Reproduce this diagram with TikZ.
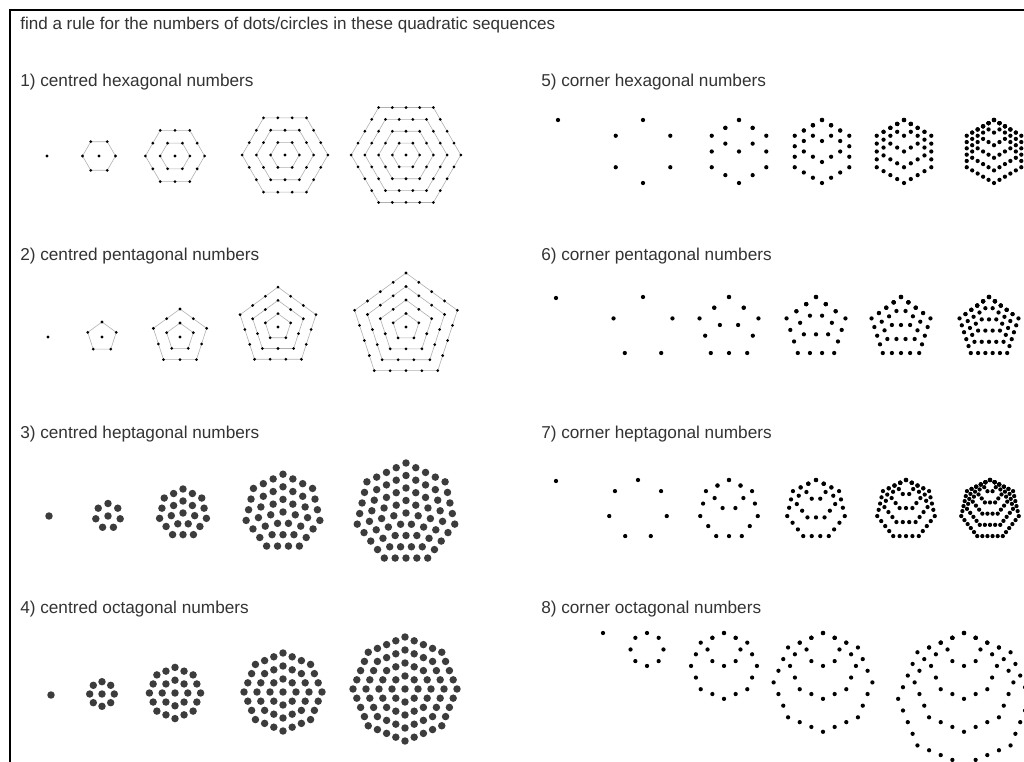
\documentclass[tikz,border=0pt]{standalone}
\usepackage{fontspec}
\setmainfont{Liberation Sans}
\definecolor{txt}{HTML}{333333}
\definecolor{ringc}{HTML}{B0B0B0}
\definecolor{bigdot}{HTML}{3C3C3C}
\tikzset{
  lbl/.style={anchor=west,inner sep=0pt,text=txt,font=\fontsize{12.9pt}{15pt}\selectfont},
  ttl/.style={anchor=west,inner sep=0pt,text=txt,font=\fontsize{12.8pt}{15pt}\selectfont},
  ringline/.style={draw=ringc,line width=0.45pt},
  smalldot/.style={fill=black},
  heavydot/.style={fill=bigdot},
  cdot/.style={fill=black},
  frame/.style={line width=1.5pt,draw=black}
}
% centred figure: #1 cx, #2 cy, #3 sides, #4 rings, #5 ring spacing, #6 start angle, #7 dot style, #8 dot radius, #9 lines (1/0)
\newcommand{\centredfig}[9]{%
  \ifnum#9=1
    \foreach \k in {1,...,#4}{
      \draw[ringline] plot[samples at={0,...,#3}] ({#1+\k*#5*cos(#6+\x*360/#3)},{#2+\k*#5*sin(#6+\x*360/#3)});
    }
  \fi
  \fill[#7] (#1,#2) circle[radius=#8];
  \foreach \k in {1,...,#4}{
    \foreach \i in {1,...,#3}{
      \foreach \t in {1,...,\k}{
        \pgfmathsetmacro\ff{(\t-1)/\k}
        \pgfmathsetmacro\aa{#6+(\i-1)*360/#3}
        \pgfmathsetmacro\ab{#6+\i*360/#3}
        \fill[#7] ({#1+\k*#5*((1-\ff)*cos(\aa)+\ff*cos(\ab))},{#2+\k*#5*((1-\ff)*sin(\aa)+\ff*sin(\ab))}) circle[radius=#8];
      }
    }
  }
}
% corner figure: #1 top x, #2 top y, #3 sides, #4 largest size, #5 dot spacing, #6 dot radius
\newcommand{\cornerfig}[6]{%
  \foreach \k in {1,...,#4}{
    \pgfmathsetmacro\RR{\k*#5/(2*sin(180/#3))}
    \foreach \i in {1,...,#3}{
      \foreach \t in {1,...,\k}{
        \pgfmathsetmacro\ff{(\t-1)/\k}
        \pgfmathsetmacro\aa{-90+(\i-1)*360/#3}
        \pgfmathsetmacro\ab{-90+\i*360/#3}
        \fill[cdot] ({#1+\RR*((1-\ff)*cos(\aa)+\ff*cos(\ab))},{#2+\RR+\RR*((1-\ff)*sin(\aa)+\ff*sin(\ab))}) circle[radius=#6];
      }
    }
  }
}
\begin{document}
\begin{tikzpicture}[x=0.75pt,y=-0.75pt]
\useasboundingbox (0,0) rectangle (1024,762);
\fill[white] (0,0) rectangle (1024,762);
% frame
\coordinate (fb) at (9.5,762);
\coordinate (fc) at (9.5,10);
\coordinate (fr) at (1024,10);
\draw[frame] (fb) -- (fc) -- (fr);
% texts
\node[ttl] (title) at (20,25) {find a rule for the numbers of dots/circles in these quadratic sequences};
\node[lbl] (l1) at (20,82) {1) centred hexagonal numbers};
\node[lbl] (l2) at (20,256) {2) centred pentagonal numbers};
\node[lbl] (l3) at (20,434) {3) centred heptagonal numbers};
\node[lbl] (l4) at (20,609) {4) centred octagonal numbers};
\node[lbl] (l5) at (541,82) {5) corner hexagonal numbers};
\node[lbl] (l6) at (541,256) {6) corner pentagonal numbers};
\node[lbl] (l7) at (541,434) {7) corner heptagonal numbers};
\node[lbl] (l8) at (541,609) {8) corner octagonal numbers};
% 1) centred hexagonal
\fill[smalldot] (47,156) circle[radius=1.15pt];
\centredfig{99}{156}{6}{1}{16.5}{0}{smalldot}{1.15pt}{1}
\centredfig{175}{156}{6}{2}{14.8}{0}{smalldot}{1.15pt}{1}
\centredfig{285}{155}{6}{3}{14.3}{0}{smalldot}{1.15pt}{1}
\centredfig{406}{155}{6}{4}{13.7}{0}{smalldot}{1.15pt}{1}
% 2) centred pentagonal
\fill[smalldot] (48,337) circle[radius=1.15pt];
\centredfig{102}{337}{5}{1}{15}{-90}{smalldot}{1.15pt}{1}
\centredfig{180}{337}{5}{2}{14}{-90}{smalldot}{1.15pt}{1}
\centredfig{278}{327}{5}{3}{13.3}{-90}{smalldot}{1.15pt}{1}
\centredfig{406}{327}{5}{4}{13.5}{-90}{smalldot}{1.15pt}{1}
% 3) centred heptagonal
\fill[heavydot] (49,516) circle[radius=2.8pt];
\centredfig{108}{516}{7}{1}{12.5}{-90}{heavydot}{2.8pt}{0}
\centredfig{183}{513}{7}{2}{12}{-90}{heavydot}{2.8pt}{0}
\centredfig{283}{512}{7}{3}{12.6}{-90}{heavydot}{2.8pt}{0}
\centredfig{406}{513}{7}{4}{12.5}{-90}{heavydot}{2.8pt}{0}
% 4) centred octagonal
\fill[heavydot] (51,695) circle[radius=2.8pt];
\centredfig{102}{694}{8}{1}{12.3}{-90}{heavydot}{2.8pt}{0}
\centredfig{175}{693}{8}{2}{12.8}{-90}{heavydot}{2.8pt}{0}
\centredfig{283}{692}{8}{3}{13}{-90}{heavydot}{2.8pt}{0}
\centredfig{405}{689}{8}{4}{13}{-90}{heavydot}{2.8pt}{0}
% 5) corner hexagonal
\fill[cdot] (558,120) circle[radius=1.6pt];
\cornerfig{643}{120}{6}{1}{31.5}{1.6pt}
\cornerfig{739}{120}{6}{2}{15.75}{1.6pt}
\cornerfig{822}{120}{6}{3}{10.5}{1.6pt}
\cornerfig{904}{120}{6}{4}{7.875}{1.6pt}
\cornerfig{994}{120}{6}{5}{6.3}{1.6pt}
% 6) corner pentagonal
\fill[cdot] (556,298) circle[radius=1.6pt];
\cornerfig{643}{297}{5}{1}{36.4}{1.6pt}
\cornerfig{729}{297}{5}{2}{18.2}{1.6pt}
\cornerfig{816}{297}{5}{3}{12.13}{1.6pt}
\cornerfig{901}{297}{5}{4}{9.1}{1.6pt}
\cornerfig{989}{297}{5}{5}{7.28}{1.6pt}
% 7) corner heptagonal
\fill[cdot] (556,481) circle[radius=1.6pt];
\cornerfig{638}{480}{7}{1}{25.6}{1.6pt}
\cornerfig{729}{480}{7}{2}{12.8}{1.6pt}
\cornerfig{816}{480}{7}{3}{8.533}{1.6pt}
\cornerfig{906}{480}{7}{4}{6.4}{1.6pt}
\cornerfig{990}{480}{7}{5}{5.12}{1.6pt}
% 8) corner octagonal
\fill[cdot] (603,633) circle[radius=1.6pt];
\cornerfig{647}{633}{8}{1}{12.6}{1.6pt}
\cornerfig{724}{633}{8}{2}{12.6}{1.6pt}
\cornerfig{823}{633}{8}{3}{12.6}{1.6pt}
\cornerfig{964}{633}{8}{4}{12.6}{1.6pt}
\end{tikzpicture}
\end{document}
